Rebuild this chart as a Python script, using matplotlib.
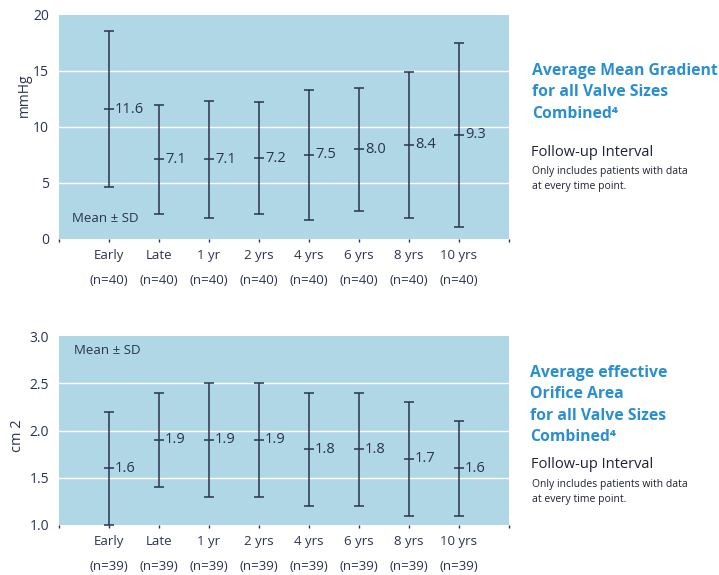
import matplotlib.pyplot as plt
from matplotlib.transforms import blended_transform_factory

plt.rcParams['font.family'] = ['Open Sans', 'DejaVu Sans']

# data
labels = ["Early", "Late", "1 yr", "2 yrs", "4 yrs", "6 yrs", "8 yrs", "10 yrs"]
grad_mean = [11.6, 7.1, 7.1, 7.2, 7.5, 8.0, 8.4, 9.3]
grad_low = [4.6, 2.2, 1.9, 2.2, 1.7, 2.5, 1.9, 1.1]
grad_high = [18.6, 12.0, 12.3, 12.2, 13.3, 13.5, 14.9, 17.5]
grad_n = ["(n=40)"] * 8

eoa_mean = [1.6, 1.9, 1.9, 1.9, 1.8, 1.8, 1.7, 1.6]
eoa_low = [1.0, 1.4, 1.3, 1.3, 1.2, 1.2, 1.1, 1.1]
eoa_high = [2.2, 2.4, 2.5, 2.5, 2.4, 2.4, 2.3, 2.1]
eoa_n = ["(n=39)"] * 8

bg = '#b0d7e6'
dark = '#2b3350'
blue = '#2a8fd0'

fig = plt.figure(figsize=(7.19, 5.75), dpi=100)
ax1 = fig.add_axes([59/719, 1-239/575, 450/719, 224/575])
ax2 = fig.add_axes([59/719, 1-525/575, 450/719, 189/575])


def draw(ax, mean, low, high, nlab, ylim, yticks, fmt, grid):
    x = list(range(1, len(mean) + 1))
    lo = [m - l for m, l in zip(mean, low)]
    hi = [h - m for m, h in zip(mean, high)]
    ax.set_facecolor(bg)
    for g in grid:
        ax.axhline(g, color='white', lw=1.0, zorder=1)
    ax.errorbar(x, mean, yerr=[lo, hi], fmt='_', color=dark, ms=7, mew=1.1,
                elinewidth=1.1, capsize=3.5, capthick=1.1, zorder=3)
    for xi, m in zip(x, mean):
        ax.annotate(fmt.format(m), (xi, m), xytext=(6, 0), textcoords='offset pixels',
                    ha='left', va='center', fontsize=10.5, color=dark)
    tr = blended_transform_factory(ax.transData, ax.transAxes)
    for xi, n in zip(x, nlab):
        ax.annotate(n, (xi, 0), xycoords=tr, xytext=(0, -42), textcoords='offset pixels',
                    ha='center', va='center', fontsize=9.5, color=dark)
    ax.set_xlim(0, 9)
    ax.set_ylim(*ylim)
    ax.set_xticks(range(0, 10))
    ax.set_xticklabels([""] + labels + [""])
    ax.set_yticks(yticks)
    ax.tick_params(axis='x', length=2, width=1, color=dark, pad=5, labelsize=9.5, labelcolor=dark)
    ax.tick_params(axis='y', length=0, pad=7, labelsize=10, labelcolor=dark)
    for s in ax.spines.values():
        s.set_visible(False)


draw(ax1, grad_mean, grad_low, grad_high, grad_n, (0, 20), [0, 5, 10, 15, 20], "{:.1f}", [5, 10, 15])
draw(ax2, eoa_mean, eoa_low, eoa_high, eoa_n, (1.0, 3.0), [1.0, 1.5, 2.0, 2.5, 3.0], "{:.1f}", [1.5, 2.0, 2.5])
ax2.set_yticklabels(["1.0", "1.5", "2.0", "2.5", "3.0"])

ax1.set_ylabel("mmHg", fontsize=10, color=dark)
ax1.yaxis.set_label_coords(-0.061, 0.64)
ax2.set_ylabel("cm 2", fontsize=10.5, color=dark)
ax2.yaxis.set_label_coords(-0.076, 0.47)

ax1.text(0.25, 1.8, "Mean ± SD", fontsize=9.5, color=dark, va='center')
ax2.text(0.3, 2.85, "Mean ± SD", fontsize=9.5, color=dark, va='center')

# side texts
fig.text(532/719, 1-63/575, "Average Mean Gradient\nfor all Valve Sizes\nCombined\u2074",
         fontsize=11.3, fontweight='bold', color=blue, va='top', linespacing=1.45)
fig.text(531/719, 1-152/575, "Follow-up Interval", fontsize=10.5, color='#1e2235', va='center')
fig.text(532/719, 1-179/575, "Only includes patients with data\nat every time point.",
         fontsize=7.5, color='#1e2235', va='center', linespacing=1.5)

fig.text(530/719, 1-365/575, "Average effective\nOrifice Area\nfor all Valve Sizes\nCombined\u2074",
         fontsize=11.3, fontweight='bold', color=blue, va='top', linespacing=1.45)
fig.text(531/719, 1-464/575, "Follow-up Interval", fontsize=10.5, color='#1e2235', va='center')
fig.text(532/719, 1-492/575, "Only includes patients with data\nat every time point.",
         fontsize=7.5, color='#1e2235', va='center', linespacing=1.5)

fig.savefig("out.png", dpi=100)
